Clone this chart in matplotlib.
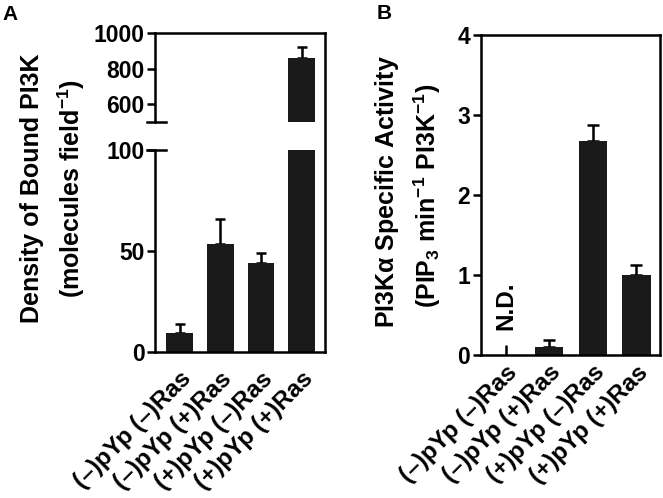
import numpy as np
import matplotlib
matplotlib.use('Agg')
import matplotlib.pyplot as plt
from matplotlib.lines import Line2D

plt.rcParams['font.family'] = ['Liberation Sans', 'DejaVu Sans']
plt.rcParams['font.weight'] = 'bold'
plt.rcParams['mathtext.fontset'] = 'custom'
plt.rcParams['mathtext.rm'] = 'Liberation Sans:bold'
plt.rcParams['mathtext.it'] = 'Liberation Sans:bold'
plt.rcParams['mathtext.bf'] = 'Liberation Sans:bold'
plt.rcParams['mathtext.default'] = 'rm'

# data
conditions = ['(–)pYp (–)Ras', '(–)pYp (+)Ras', '(+)pYp (–)Ras', '(+)pYp (+)Ras']
density = [9.6, 53.5, 44.0, 857.0]
density_err = [4.5, 12.5, 5.0, 66.0]
activity = [0.0, 0.10, 2.67, 1.0]
activity_err = [0.12, 0.09, 0.21, 0.12]

bar_col = '#1a1a1a'
lw = 1.8
fs_tick = 16.5
fs_lab = 18
fs_x = 17.5

fig = plt.figure(figsize=(6.63, 4.98), dpi=100)

# panel A: broken axis
L, R = 0.234, 0.490
ax_top = fig.add_axes([L, 0.755, R - L, 0.934 - 0.755])
ax_bot = fig.add_axes([L, 0.293, R - L, 0.699 - 0.293])
x = np.arange(len(conditions))

for ax in (ax_top, ax_bot):
    ax.bar(x, density, width=0.66, color=bar_col, zorder=2)
    ax.errorbar(x, density, yerr=[np.zeros(len(x)), density_err], fmt='none',
                ecolor='k', elinewidth=lw, capsize=3.8, capthick=lw, zorder=1)
    ax.set_xlim(-0.6, 3.57)
    for s in ax.spines.values():
        s.set_linewidth(lw)
    ax.spines['right'].set_visible(False)
    ax.tick_params(axis='y', length=6, width=lw, labelsize=fs_tick, pad=1.5)
    ax.tick_params(axis='x', length=0)

ax_top.set_ylim(500, 1000)
ax_top.set_yticks([600, 800, 1000])
ax_top.spines['bottom'].set_visible(False)
ax_top.set_xticks([])

ax_bot.set_ylim(0, 100)
ax_bot.set_yticks([0, 50, 100])
ax_bot.spines['top'].set_visible(False)
ax_bot.set_xticks(x)
ax_bot.set_xticklabels(conditions, rotation=45, ha='right', rotation_mode='anchor',
                       fontsize=fs_x)
ax_bot.tick_params(axis='x', pad=11)

# break caps and continuous right spine
for ax, yy in ((ax_top, 0), (ax_bot, 1)):
    ax.plot([-0.047, 0.065], [yy, yy], transform=ax.transAxes, color='k',
            lw=lw, clip_on=False)
fig.add_artist(Line2D([R, R], [0.293, 0.934], color='k', lw=lw))

fig.text(0.048, 0.622, 'Density of Bound PI3K', rotation=90, ha='center',
         va='center', fontsize=fs_lab)
fig.text(0.108, 0.622, '(molecules field$^{-1}$)', rotation=90, ha='center',
         va='center', fontsize=fs_lab)
fig.text(0.004, 0.971, 'A', fontsize=15, ha='left', va='center')

# panel B
axb = fig.add_axes([0.725, 0.287, 0.9955 - 0.725, 0.930 - 0.287])
axb.bar(x[1:], activity[1:], width=0.65, color=bar_col, zorder=2)
axb.errorbar(x[1:], activity[1:], yerr=[np.zeros(3), activity_err[1:]], fmt='none',
             ecolor='k', elinewidth=lw, capsize=4, capthick=lw, zorder=1)
axb.errorbar(x[:1], activity[:1], yerr=[[0], activity_err[:1]], fmt='none',
             ecolor='k', elinewidth=lw, capsize=0)
axb.text(x[0], 0.31, 'N.D.', rotation=90, ha='center', va='bottom', fontsize=fs_x)
axb.set_xlim(-0.57, 3.54)
axb.set_ylim(0, 4)
axb.set_yticks([0, 1, 2, 3, 4])
for s in axb.spines.values():
    s.set_linewidth(lw)
axb.tick_params(axis='y', length=6, width=lw, labelsize=fs_tick, pad=1.5)
axb.tick_params(axis='x', length=0, pad=4)
axb.set_xticks(x)
axb.set_xticklabels(conditions, rotation=45, ha='right', rotation_mode='anchor',
                    fontsize=fs_x)

fig.text(0.584, 0.616, 'PI3K$\\alpha$ Specific Activity', rotation=90, ha='center',
         va='center', fontsize=fs_lab)
fig.text(0.645, 0.606, '(PIP$_3$ min$^{-1}$ PI3K$^{-1}$)', rotation=90, ha='center',
         va='center', fontsize=fs_lab)
fig.text(0.568, 0.972, 'B', fontsize=15, ha='left', va='center')

fig.savefig('out.png', dpi=100)
